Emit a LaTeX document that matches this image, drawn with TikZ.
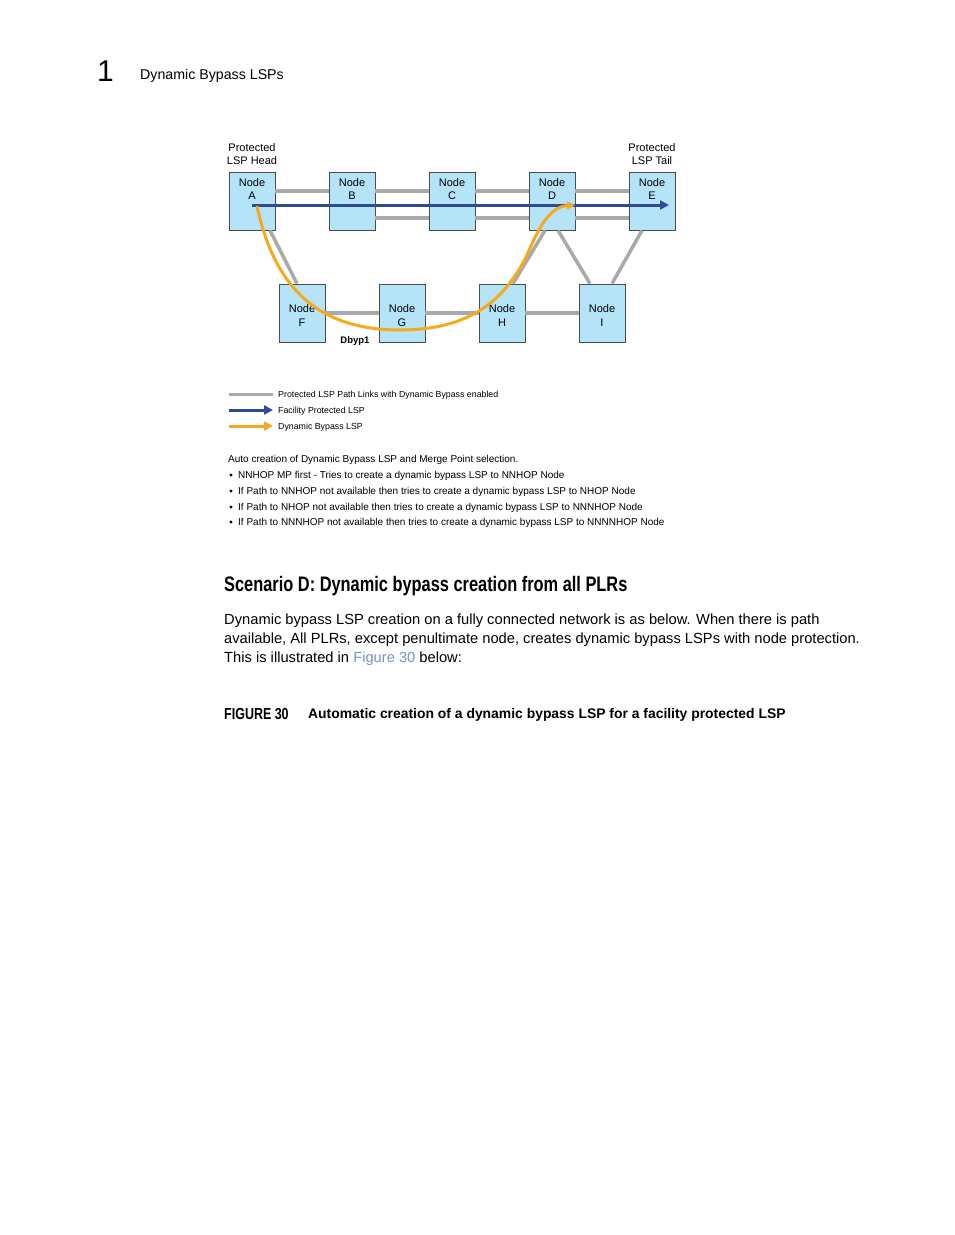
\documentclass[tikz,border=0pt]{standalone}
\usepackage{fontspec}
\setmainfont{Liberation Sans}
\newfontfamily\condfont[FakeStretch=0.78]{Liberation Sans}
\usetikzlibrary{arrows.meta,positioning}

\begin{document}
\begin{tikzpicture}[x=1pt,y=-1pt,
    nodebox/.style={draw=black!70, fill=lspfill, line width=0.8pt, minimum width=46pt, minimum height=58pt, inner sep=0pt},
    nodetxt/.style={font=\fontsize{11}{13.5}\selectfont, align=center, inner sep=0pt},
    link/.style={draw=linkgray, line width=3.5pt},
    lspline/.style={draw=lspblue, line width=3pt, -{Triangle[length=9pt,width=9pt]}},
    bypass/.style={draw=bypassorange, line width=3pt, -{Triangle[length=8pt,width=8pt]}},
    small/.style={font=\fontsize{10}{12}\selectfont, anchor=west, inner sep=0pt},
    body/.style={font=\fontsize{14.7}{17}\selectfont, anchor=west, inner sep=0pt}]
    \definecolor{lspfill}{HTML}{B5E4F8}
    \definecolor{linkgray}{HTML}{A9A9A9}
    \definecolor{lspblue}{HTML}{2F4A9B}
    \definecolor{bypassorange}{HTML}{F6A91E}
    \definecolor{figlink}{HTML}{7A8FC6}
    \useasboundingbox (0,0) rectangle (954,1235);

    % page header
    \node[anchor=west, inner sep=0pt, font=\fontsize{30}{30}\selectfont] (pnum) at (97,71) {1};
    \node[anchor=west, inner sep=0pt, font=\fontsize{14.2}{16}\selectfont] (ptitle) at (140,76) {Dynamic Bypass LSPs};

    % routers
    \foreach \n/\x in {A/252,B/352,C/452,D/552,E/652} {
        \node[nodebox] (\n) at (\x,201) {};
    }
    \foreach \n/\x in {F/302,G/402,H/502,I/602} {
        \node[nodebox] (\n) at (\x,313) {};
    }

    % links
    \draw[link] ([yshift=10pt]A.east) -- ([yshift=10pt]B.west);
    \foreach \p/\q in {B/C,C/D,D/E} {
        \draw[link] ([yshift=10pt]\p.east) -- ([yshift=10pt]\q.west);
        \draw[link] ([yshift=-17pt]\p.east) -- ([yshift=-17pt]\q.west);
    }
    \foreach \p/\q in {F/G,G/H,H/I} {
        \draw[link] (\p.east) -- (\q.west);
    }
    \draw[link] ([xshift=18pt]A.south) -- ([xshift=-5pt]F.north);
    \draw[link] ([xshift=-7pt]D.south) -- ([xshift=11pt]H.north);
    \draw[link] ([xshift=6pt]D.south) -- ([xshift=-12pt]I.north);
    \draw[link] ([xshift=-10pt]E.south) -- ([xshift=10pt]I.north);

    % node labels
    \foreach \n/\l in {A/A,B/B,C/C,D/D,E/E} {
        \node[nodetxt, below=6.5pt of \n.north] {Node\\\l};
    }
    \foreach \n/\l in {F/F,G/G,H/H,I/I} {
        \node[nodetxt] at ([yshift=-2.5pt]\n.center) {Node\\\l};
    }

    % protected LSP and bypass
    \coordinate (head) at (252,205);
    \coordinate (tail) at (669,205);
    \coordinate (merge) at (575,205);
    \draw[lspline] (head) -- (tail);
    \draw[bypass] (257,206) .. controls (275,290) and (320,330) .. (400,330)
        .. controls (470,330) and (505,300) .. (527,255)
        .. controls (540,225) and (550,207) .. (merge);
    \node[font=\bfseries\fontsize{9.5}{11}\selectfont, inner sep=0pt] (dbyp) at (355,341) {Dbyp1};

    \node[nodetxt, font=\fontsize{11}{12.5}\selectfont, above=7pt of A.north] (headlbl) {Protected\\LSP Head};
    \node[nodetxt, font=\fontsize{11}{12.5}\selectfont, above=7pt of E.north] (taillbl) {Protected\\LSP Tail};

    % legend
    \coordinate (g1) at (229,394); \coordinate (g2) at (273,394);
    \coordinate (b1) at (229,410); \coordinate (b2) at (273,410);
    \coordinate (o1) at (229,426); \coordinate (o2) at (273,426);
    \draw[link, line width=3pt] (g1) -- (g2);
    \draw[lspline] (b1) -- (b2);
    \draw[bypass, -{Triangle[length=9pt,width=9pt]}] (o1) -- (o2);
    \node[small, font=\fontsize{8.8}{10}\selectfont] at (278,395) {Protected LSP Path Links with Dynamic Bypass enabled};
    \node[small, font=\fontsize{8.8}{10}\selectfont] at (278,411) {Facility Protected LSP};
    \node[small, font=\fontsize{8.8}{10}\selectfont] at (278,427) {Dynamic Bypass LSP};

    % merge point notes
    \node[small] at (228,460) {Auto creation of Dynamic Bypass LSP and Merge Point selection.};
    \foreach \y/\t in {474/{NNHOP MP first - Tries to create a dynamic bypass LSP to NNHOP Node},
                       490/{If Path to NNHOP not available then tries to create a dynamic bypass LSP to NHOP Node},
                       506/{If Path to NHOP not available then tries to create a dynamic bypass LSP to NNNHOP Node},
                       521/{If Path to NNNHOP not available then tries to create a dynamic bypass LSP to NNNNHOP Node}} {
        \fill (231,\y+1) circle (1.7pt);
        \node[small] at (238,\y+1.5) {\t};
    }

    % text below the figure
    \node[anchor=west, inner sep=0pt, font=\condfont\bfseries\fontsize{21}{24}\selectfont] (scen) at (224,586) {Scenario D: Dynamic bypass creation from all PLRs};
    \node[body] at (224,621) {Dynamic bypass LSP creation on a fully connected network is as below. When there is path};
    \node[body] at (224,640) {available, All PLRs, except penultimate node, creates dynamic bypass LSPs with node protection.};
    \node[body] at (224,659) {This is illustrated in \textcolor{figlink}{Figure 30} below:};
    \node[anchor=west, inner sep=0pt, font=\condfont\bfseries\fontsize{16}{18}\selectfont] (fignum) at (224,714) {FIGURE 30};
    \node[anchor=west, inner sep=0pt, font=\bfseries\fontsize{13.9}{16}\selectfont] (figcap) at (308,714.5) {Automatic creation of a dynamic bypass LSP for a facility protected LSP};
\end{tikzpicture}
\end{document}
